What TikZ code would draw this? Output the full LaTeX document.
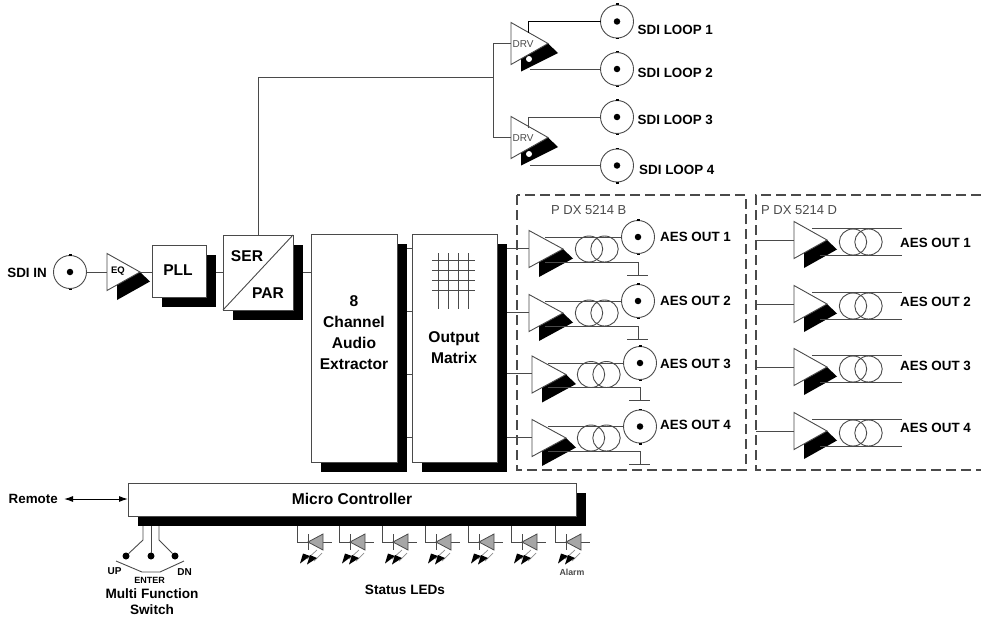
\documentclass[tikz,border=0pt]{standalone}
\usepackage{fontspec}
\setmainfont{Liberation Sans}
\usetikzlibrary{arrows.meta,calc}
\definecolor{ln}{HTML}{4A4A4A}
\newcommand\fs[2]{\fontsize{#1}{#2}\selectfont}
\tikzset{
  wire/.style={draw=ln,line width=0.9pt},
  dwire/.style={draw=black,line width=1pt},
  boxn/.style={draw=ln,fill=white,line width=1pt,inner sep=0pt,outer sep=0pt},
  shadown/.style={fill=black,inner sep=0pt,outer sep=0pt},
  bncn/.style={circle,draw=ln,fill=white,line width=0.9pt,minimum size=33pt,inner sep=0pt,outer sep=0pt},
  lab/.style={font=\bfseries\fs{13.4}{16},inner sep=0pt,anchor=west},
  big/.style={font=\bfseries\fs{15.6}{21},inner sep=0pt,align=center},
  reg/.style={font=\fs{13}{15},inner sep=0pt,text=ln,anchor=west},
  dashbox/.style={draw=ln,line width=1.2pt,dash pattern=on 10pt off 5pt},
  dotn/.style={circle,fill=black,inner sep=0pt,minimum size=#1,outer sep=0pt},
  coil/.style={draw=ln,line width=0.9pt},
}
% box with drop shadow: name, cx, cy, w, h
\newcommand\bx[6][10]{%
  \node[shadown,minimum width=#5pt,minimum height=#6pt] (#2-s) at (#3+#1,#4+#1) {};
  \node[boxn,minimum width=#5pt,minimum height=#6pt] (#2) at (#3,#4) {};}
% bnc connector: name, cx, cy
\newcommand\bnc[3]{%
  \node[bncn] (#1) at (#2,#3) {};
  \node[dotn=6.5pt] (#1-d) at (#2,#3) {};
  \fill (#2-1.5,#3-18) rectangle (#2+1.5,#3-16.5);
  \fill (#2-1.5,#3+16.5) rectangle (#2+1.5,#3+18);}
% amplifier: name, left x, centre y, half height, length
\newcommand\amp[5]{%
  \fill (#2+10,#3+8) -- (#2+#5,#3) -- (#2+#5+10,#3+9.5) -- (#2+10,#3+28) -- cycle;
  \draw[draw=ln,fill=white,line width=0.9pt] (#2,#3-#4) -- (#2+#5,#3) -- (#2,#3+#4) -- cycle;
  \coordinate (#1-in) at (#2,#3);
  \coordinate (#1-tip) at (#2+#5,#3);}
% transformer
\newcommand\xfmr[3]{%
  \draw[coil] (#2,#3) circle[x radius=13.7,y radius=13];
  \draw[coil] (#2+15.5,#3) circle[x radius=13.7,y radius=13];
  \coordinate (#1) at (#2,#3);}
% led
\newcommand\led[2]{%
  \coordinate (#1-a) at (#2,542);
  \coordinate (#1-t) at (#2+11,542);
  \coordinate (#1-k) at (#2+26,542);
  \coordinate (#1-e) at (#2+35,542);
  \draw[wire] (#2,526) -- (#1-a) -- (#1-t);
  \draw[wire] (#1-k) -- (#1-e);
  \draw[draw=ln,fill=black!35,line width=0.8pt] (#1-t) -- (#2+26,534) -- (#2+26,550) -- cycle;
  \draw[draw=ln,line width=1pt] (#2+11,534) -- (#2+11,550);
  \draw[draw=black!45,line width=0.7pt] (#2+20,550) -- (#2+10,559);
  \draw[draw=black!45,line width=0.7pt] (#2+25,553) -- (#2+17,561);
  \fill (#2+13,556) -- (#2+3,563.5) -- (#2+6,553.5) -- cycle;
  \fill (#2+20,558) -- (#2+10,564.5) -- (#2+13,555) -- cycle;}
\begin{document}
\begin{tikzpicture}[x=1pt,y=-1pt]
\useasboundingbox (0,0) rectangle (981,618);
\coordinate (sig) at (0,272);
% dashed panels
\draw[dashbox] (517,195) rectangle (746,470);
\draw[dashbox] (981,195) -- (756,195) -- (756,470) -- (981,470);
\node[reg] (pb) at (551,210) {P DX 5214 B};
\node[reg] (pd) at (761,210) {P DX 5214 D};
% main chain
\node[lab,anchor=east] (sdiinl) at (47,273) {SDI IN};
\bnc{sdiin}{70}{272}
\amp{eq}{107}{272}{18.5}{33}
\node[font=\bfseries\fs{9.5}{10},inner sep=0pt] (eql) at (118,271) {EQ};
\bx{pll}{179}{271}{54}{52}
\node[big] (plll) at (178,270) {PLL};
\bx{ser}{258}{272.5}{70}{75}
\draw[wire] (ser.south west) -- (ser.north east);
\node[big] (serl) at (247,256) {SER};
\node[big] (parl) at (268,293) {PAR};
\bx{ext}{354}{348}{86}{228}
\node[big] (extl) at (354,333) {8\\Channel\\Audio\\Extractor};
\bx{mat}{454.5}{348}{85}{228}
\node[big] (matl) at (454,348) {Output\\Matrix};
\bx{mc}{352}{499.5}{448}{33}
\node[big] (mcl) at (352,499) {Micro Controller};
% matrix grid
\foreach \i/\v in {a/438,b/448,c/458,d/468} {
  \coordinate (g\i1) at (\v,253); \coordinate (g\i2) at (\v,309);
  \draw[wire] (g\i1) -- (g\i2);}
\foreach \i/\v in {a/260,b/270,c/280,d/290} {
  \coordinate (h\i1) at (432,\v); \coordinate (h\i2) at (475,\v);
  \draw[wire] (h\i1) -- (h\i2);}
% chain connectors
\draw[wire] (sdiin.east) -- (eq-in);
\draw[wire] (eq-tip) -- (pll.west |- sig);
\draw[wire] (pll-s.east |- sig) -- (ser.west |- sig);
\draw[wire] (ser-s.east |- sig) -- (ext.west |- sig);
\foreach \v in {248,311,374,437} {
  \coordinate (lk) at (0,\v);
  \draw[wire] (ext-s.east |- lk) -- (mat.west |- lk);}
% SDI loops
\coordinate (busT) at (258,77);
\coordinate (busJ) at (493,77);
\amp{d1}{511}{43.5}{21}{37}
\amp{d2}{511}{137.5}{21}{37}
\node[font=\fs{10}{11},inner sep=0pt,text=ln] (d1l) at (523,44) {DRV};
\node[font=\fs{10}{11},inner sep=0pt,text=ln] (d2l) at (523,138) {DRV};
\fill[white] (529,59) circle[radius=3];
\fill[white] (529,154) circle[radius=3];
\bnc{l1}{617}{21.5}
\bnc{l2}{617}{69}
\bnc{l3}{617}{117}
\bnc{l4}{617}{165.5}
\draw[wire] (ser.north -| busT) -- (busT) -- (busJ);
\draw[wire] (d1-in) -- (d1-in -| busJ) -- (d2-in -| busJ) -- (d2-in);
\draw[dwire] (528,33) -- (528,21.5) -- (l1.west);
\draw[wire] (528,128) -- (528,117) -- (l3.west);
\draw[wire] (530,69) -- (l2.west);
\draw[wire] (530,165.5) -- (l4.west);
\node[lab] (ll1) at (637.5,29.5) {SDI LOOP 1};
\node[lab] (ll2) at (637.5,73) {SDI LOOP 2};
\node[lab] (ll3) at (637.5,120) {SDI LOOP 3};
\node[lab] (ll4) at (639,169.5) {SDI LOOP 4};
% AES B
\foreach \n/\ax/\a/\bx/\b/\tx/\lb in {1/529/249/638/237/589/236.5,2/529/313/638/301/589/300.5,3/532/374.5/640/363/591/364,4/532/438/640/426.5/591/425} {
  \amp{ba\n}{\ax}{\a}{18.5}{34}
  \bnc{bb\n}{\bx}{\b}
  \xfmr{bx\n}{\tx}{\a}
  \coordinate (bin\n) at (\ax,\a-1);
  \coordinate (bo\n) at (0,\a-1);
  \coordinate (bt\n) at (\ax+16,\b);
  \coordinate (bc\n) at (\ax+16,\a+13);
  \coordinate (bg\n) at (\bx,\a+13);
  \coordinate (bh\n) at (\bx,\a+26);
  \coordinate (bh\n l) at (\bx-11,\a+26);
  \coordinate (bh\n r) at (\bx+10,\a+26);
  \draw[wire] (mat-s.east |- bo\n) -- (bin\n);
  \draw[wire] (bt\n) -- (bb\n.west);
  \draw[wire] (bc\n) -- (bg\n) -- (bh\n);
  \draw[wire] (bh\n l) -- (bh\n r);
  \node[lab] (bl\n) at (660,\lb) {AES OUT \n};
}
% AES D
\foreach \n/\a/\lb in {1/240/243,2/304/302,3/367/366,4/431/428} {
  \amp{da\n}{794}{\a}{18.5}{33}
  \xfmr{dx\n}{853}{\a+2}
  \coordinate (dp\n) at (756,\a);
  \coordinate (dt1\n) at (812,\a-12);
  \coordinate (dt2\n) at (902,\a-12);
  \coordinate (db1\n) at (820,\a+15);
  \coordinate (db2\n) at (902,\a+15);
  \draw[wire] (dp\n) -- (da\n-in);
  \draw[wire] (dt1\n) -- (dt2\n);
  \draw[wire] (db1\n) -- (db2\n);
  \node[lab] (dl\n) at (900,\lb) {AES OUT \n};
}
% remote
\node[lab,anchor=east] (rem) at (58,499) {Remote};
\draw[dwire,{Latex[length=9pt,width=6pt]}-{Latex[length=9pt,width=6pt]}] (rem.east) ++(6,0) -- (mc.west |- rem);
% switch
\node[dotn=7pt] (su) at (126,556) {};
\node[dotn=7pt] (se) at (151,556) {};
\node[dotn=7pt] (sd) at (175,556) {};
\coordinate (su1) at (143,540);
\coordinate (sd1) at (159,540);
\draw[wire] (su1 |- mc-s.south) -- (su1) -- (su);
\draw[wire] (se |- mc-s.south) -- (se);
\draw[wire] (sd1 |- mc-s.south) -- (sd1) -- (sd);
\coordinate (sw1) at (116,561); \coordinate (sw2) at (142,572);
\coordinate (sw3) at (160,572); \coordinate (sw4) at (184,561);
\draw[wire] (sw1) -- (sw2) -- (sw3) -- (sw4);
\node[font=\bfseries\fs{10}{11},inner sep=0pt] (up) at (114.5,571) {UP};
\node[font=\bfseries\fs{9}{10},inner sep=0pt] (ent) at (149.5,580) {ENTER};
\node[font=\bfseries\fs{10}{11},inner sep=0pt] (dn) at (184.5,572) {DN};
\node[font=\bfseries\fs{13.6}{16},inner sep=0pt,align=center] (msw) at (152,602) {Multi Function\\Switch};
% LEDs
\led{l1e}{297}\led{l2e}{339}\led{l3e}{382}\led{l4e}{425}\led{l5e}{468}\led{l6e}{511}\led{l7e}{555}
\node[font=\bfseries\fs{8.8}{10},inner sep=0pt,text=ln] (alarm) at (572,572) {Alarm};
\node[font=\bfseries\fs{13.6}{16},inner sep=0pt] (sled) at (405,590) {Status LEDs};
\end{tikzpicture}
\end{document}
